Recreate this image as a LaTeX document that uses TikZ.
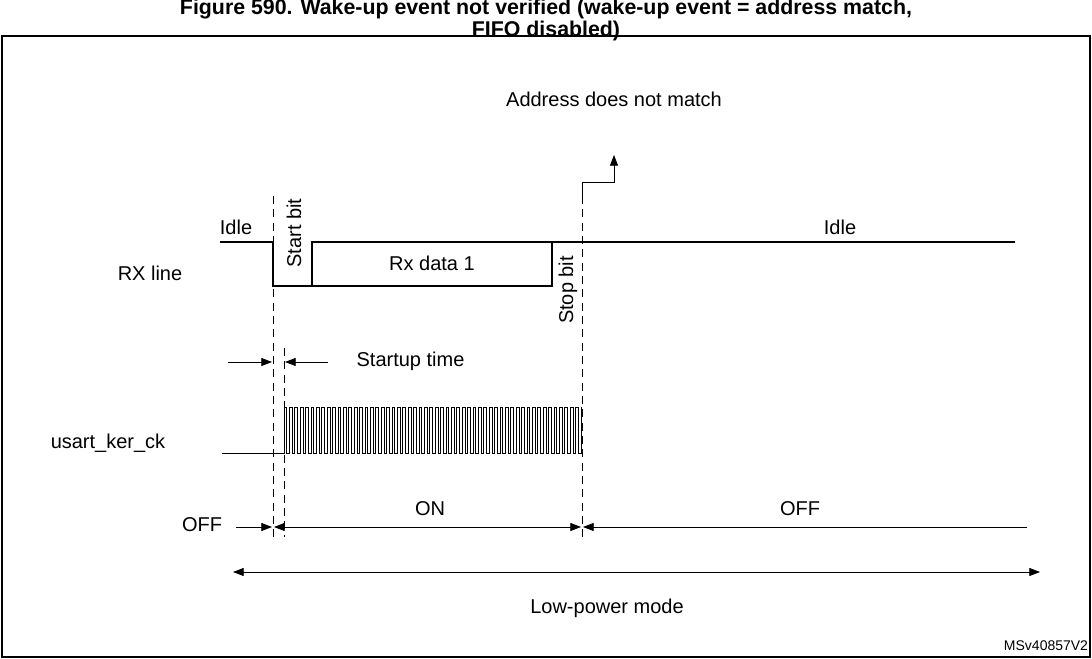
\documentclass[tikz,border=0pt]{standalone}
\usepackage{fontspec}
\setmainfont{Liberation Sans}
\usetikzlibrary{arrows.meta}
\begin{document}
\begin{tikzpicture}[x=0.75pt,y=-0.75pt,
  lbl/.style={font=\fontsize{15}{17}\selectfont,inner sep=1pt},
  dsh/.style={dashed,dash pattern=on 6pt off 4pt,line width=0.6pt},
  sig/.style={line width=0.8pt},
  arr/.style={line width=0.6pt,-{Triangle[length=8pt,width=6pt]}},
  darr/.style={line width=0.6pt,{Triangle[length=8pt,width=6pt]}-{Triangle[length=8pt,width=6pt]}}]
\useasboundingbox (0,0) rectangle (1092,659);
\node[font=\bfseries\fontsize{16}{13}\selectfont,align=center,inner sep=0pt] (title) at (546,20) {Figure 590. Wake-up event not verified (wake-up event = address match,\\FIFO disabled)};
\draw[line width=0.8pt] (2,36) rectangle (1090,657);
% RX line
\draw[sig] (220,242) -- (273,242) -- (273,286) -- (312,286) -- (312,242) -- (552,242) -- (552,286) -- (312,286);
\draw[sig] (552,242) -- (1015,242);
\node[lbl] (idle1) at (236,227) {Idle};
\node[lbl] (idle2) at (840,227) {Idle};
\node[lbl] (rxl) at (150,273) {RX line};
\node[lbl] (rxd) at (432,263) {Rx data 1};
\node[lbl,rotate=90] (sb) at (294,233) {Start bit};
\node[lbl,rotate=90] (stb) at (568,290) {Stop bit};
% dashed lines
\draw[dsh] (273,196) -- (273,537);
\draw[dsh] (284,348) -- (284,537);
\draw[dsh] (582,196) -- (582,537);
% address
\coordinate (ad0) at (582,196);
\coordinate (ad1) at (614,155);
\draw[arr] (ad0) |- (614,182) -- (ad1);
\node[lbl] (addr) at (614,99) {Address does not match};
% startup
\coordinate (s1) at (228,362); \coordinate (s2) at (272,362);
\coordinate (s3) at (328,362); \coordinate (s4) at (285,362);
\draw[arr] (s1) -- (s2);
\draw[arr] (s3) -- (s4);
\node[lbl,anchor=west] (st) at (355,361) {Startup time};
% clock
\node[lbl] (clk) at (108,443) {usart\_ker\_ck};
\draw[sig,line width=0.6pt] (222,453) -- (284,453)
  \foreach \i in {0,...,54} { -- ++(0,-46) -- ++(2.7,0) -- ++(0,46) -- ++(2.7,0) } -- ++(0,-46);
% ON/OFF row
\coordinate (o1) at (236,527); \coordinate (o2) at (272,527);
\coordinate (o3) at (274,527); \coordinate (o4) at (581,527);
\coordinate (o5) at (583,527); \coordinate (o6) at (1027,527);
\draw[arr] (o1) -- (o2);
\draw[darr] (o3) -- (o4);
\draw[line width=0.6pt,{Triangle[length=8pt,width=6pt]}-] (o5) -- (o6);
\node[lbl] (off1) at (202,525) {OFF};
\node[lbl] (on) at (430,509) {ON};
\node[lbl] (off2) at (800,509) {OFF};
% low-power
\coordinate (l1) at (233,572); \coordinate (l2) at (1040,572);
\draw[darr] (l1) -- (l2);
\node[lbl] (lp) at (607,608) {Low-power mode};
\node[font=\fontsize{10.5}{12}\selectfont] (ver) at (1046,646) {MSv40857V2};
\end{tikzpicture}
\end{document}
